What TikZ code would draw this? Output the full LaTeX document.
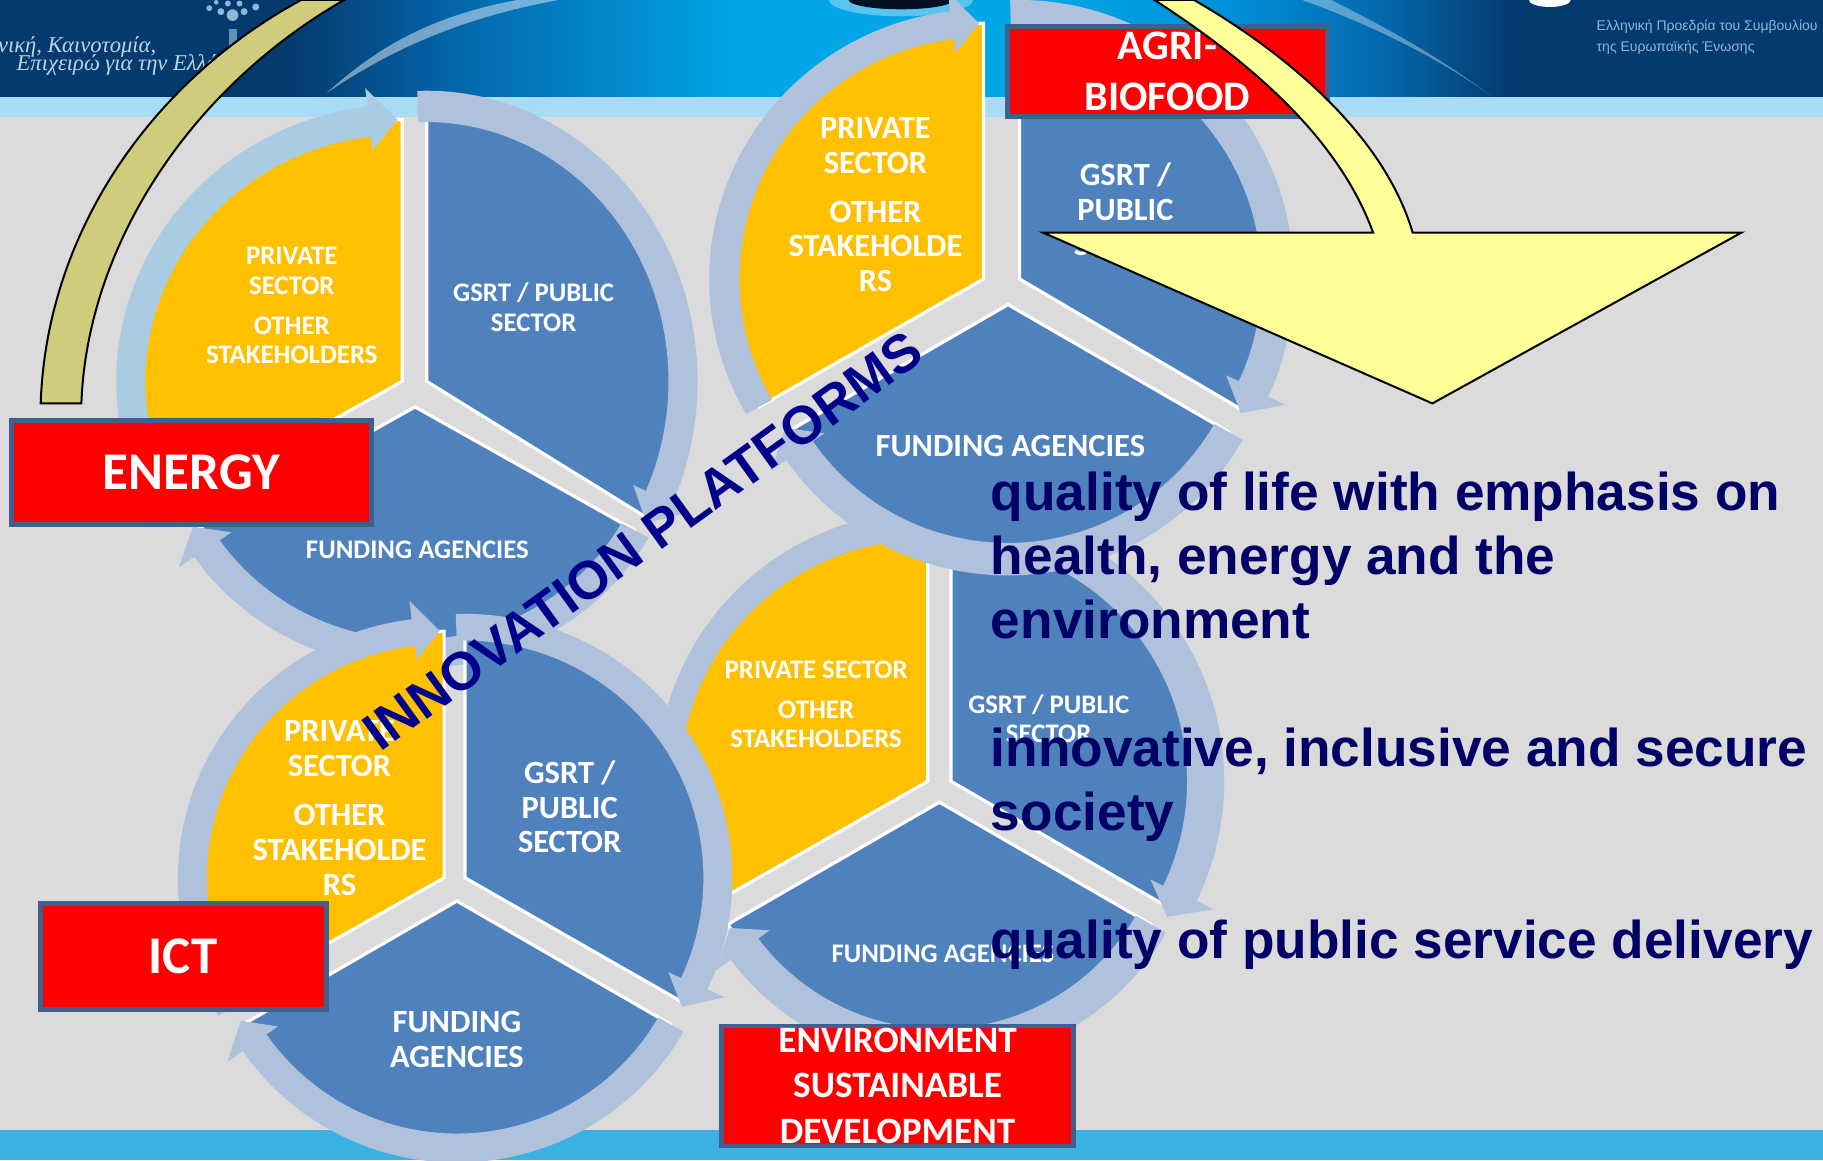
\documentclass[tikz,border=0pt]{standalone}
\usepackage{fontspec}
\setmainfont{Carlito}
\newfontfamily\arialfont{Liberation Sans}
\newfontfamily\handfont{Liberation Serif}
\definecolor{bgray}{HTML}{DBDBDB}
\definecolor{strip}{HTML}{A9DBF5}
\definecolor{footer}{HTML}{3CB1E3}
\definecolor{pblue}{HTML}{4F81BD}
\definecolor{pyellow}{HTML}{FFC000}
\definecolor{ringc}{HTML}{B0C1DC}
\definecolor{ringl}{HTML}{A9CCE3}
\definecolor{boxline}{HTML}{3F5F8F}
\definecolor{olive}{HTML}{CFCD7B}
\definecolor{paleyellow}{HTML}{FFFF99}
\definecolor{navya}{HTML}{000066}
\definecolor{navyb}{HTML}{00008B}
\definecolor{hdark}{HTML}{043A6E}
\definecolor{hmid}{HTML}{0468AE}
\definecolor{hbright}{HTML}{00A6E6}
\definecolor{hsky}{HTML}{0090D8}
\definecolor{hpale}{HTML}{8FB7D6}
\newcommand\lowered[1]{\raisebox{-1.2pt}{#1}}
\newcommand\cycpie[7]{%
  \draw[white,line width=1.6pt,line join=miter,fill=#7]
    (#1,#2) -- plot[domain=#5:#6,samples=50] ({#1+#3*cos(\x)},{#2-#4*sin(\x)}) -- cycle;}
\newcommand\cycring[9]{%
  \pgfmathsetmacro{\shaftend}{#8+6}%
  \fill[#9]
    plot[domain=#7:\shaftend,samples=60] ({#1+#5*cos(\x)},{#2-#6*sin(\x)})
    -- ({#1+(#5+16)*cos(\shaftend)},{#2-(#6+16)*sin(\shaftend)})
    -- ({#1+(#3+#5)/2*cos(#8)},{#2-(#4+#6)/2*sin(#8)})
    -- ({#1+(#3-12)*cos(\shaftend)},{#2-(#4-12)*sin(\shaftend)})
    -- plot[domain=\shaftend:#7,samples=60] ({#1+#3*cos(\x)},{#2-#4*sin(\x)})
    -- cycle;}
\tikzset{
  lblS/.style={text=white,align=center,inner sep=0pt,font=\bfseries\fontsize{13.4}{14.8}\selectfont},
  lblL/.style={text=white,align=center,inner sep=0pt,font=\bfseries\fontsize{16.2}{17.4}\selectfont},
  redbox/.style={draw=boxline,line width=2.4pt,fill=red,text=white,align=center,inner sep=0pt},
  hdrtext/.style={text=hpale,inner sep=0pt,anchor=west}
}
\begin{document}
\begin{tikzpicture}[x=0.58135pt,y=-0.58135pt]
\useasboundingbox (0,0) rectangle (1568,998);
\clip (0,0) rectangle (1568,998);
% background
\fill[bgray] (0,0) rectangle (1568,998);
\fill[strip] (0,83) rectangle (1568,101);
\fill[footer] (0,972) rectangle (1568,998);
% header
\shade[left color=hdark,right color=hdark] (0,0) rectangle (250,83);
\shade[left color=hdark,right color=hmid] (249,0) rectangle (400,83);
\shade[left color=hmid,right color=hbright] (399,0) rectangle (640,83);
\shade[left color=hbright,right color=hbright] (639,0) rectangle (900,83);
\shade[left color=hbright,right color=hsky] (899,0) rectangle (1060,83);
\shade[left color=hsky,right color=hmid] (1059,0) rectangle (1190,83);
\shade[left color=hmid,right color=hdark] (1189,0) rectangle (1300,83);
\shade[left color=hdark,right color=hdark] (1299,0) rectangle (1568,83);
\fill[white,opacity=.45] (281,80) .. controls (330,35) and (380,12) .. (445,0) -- (480,0) .. controls (400,15) and (340,40) .. (281,80) -- cycle;
\fill[white,opacity=.35] (1120,0) .. controls (1170,18) and (1230,45) .. (1282,82) .. controls (1225,40) and (1180,18) .. (1145,0) -- cycle;
\fill[white,opacity=.35] (775,0) ellipse (62 and 14);
\fill[black!70!hdark] (775,0) ellipse (45 and 8);
\fill[white] (1333,0) ellipse (18 and 6);
% emblem
\fill[hpale,opacity=.7] (197,25) rectangle (204,40);
\foreach \dx/\dy/\dr in {200/13/5,190/10/3,210/10/3,180/7/2.5,220/6/3,196/3/2.5,206/3/2.5,186/2/2}
  \fill[hpale] (\dx,\dy) circle (\dr);
\node[hdrtext,font=\handfont\itshape\fontsize{11.3}{12}\selectfont,text=hpale!60!white] (hdA) at (-2,40) {νική, Καινοτομία,};
\node[hdrtext,font=\handfont\itshape\fontsize{11.3}{12}\selectfont,text=hpale!60!white] (hdB) at (14,56) {Επιχειρώ για την Ελλάδα};
\node[hdrtext,font=\arialfont\fontsize{7}{8}\selectfont] (hdC) at (1373,23) {Ελληνική Προεδρία του Συμβουλίου};
\node[hdrtext,font=\arialfont\fontsize{7}{8}\selectfont] (hdD) at (1373,41) {της Ευρωπαϊκής Ένωσης};
% ENVIRONMENT cycle
\cycpie{798}{672}{223}{220}{90}{210}{pyellow}
\cycpie{818}{672}{219}{220}{90}{-30}{pblue}
\cycpie{808}{690}{210}{210}{330}{210}{pblue}
\cycring{808}{690}{195}{195}{225}{225}{330}{211}{ringc}
\cycring{818}{672}{203}{205}{235}{235}{92}{-32}{ringc}
\cycring{798}{672}{213}{208}{233}{232}{210}{91}{ringc}
\node[lblS] (evPriv) at (702,606) {PRIVATE SECTOR\\[5pt]OTHER\\STAKEHOLDERS};
\node[lblS] (evGsrt) at (902,618) {GSRT / PUBLIC\\SECTOR};
\node[lblS] (evFund) at (811,820) {FUNDING AGENCIES};
% AGRI cycle
\cycpie{846}{240}{223}{220}{90}{210}{pyellow}
\cycpie{877}{240}{220}{224}{90}{-30}{pblue}
\cycpie{867}{262}{219}{219}{330}{210}{pblue}
\cycring{867}{262}{205}{205}{233}{233}{330}{209}{ringc}
\cycring{877}{240}{208}{208}{236}{240}{92}{-31}{ringc}
\cycring{846}{240}{210}{208}{236}{232}{210}{91}{ringc}
\node[lblL] (agPriv) at (753,176) {PRIVATE\\SECTOR\\[7pt]OTHER\\STAKEHOLDE\\RS};
\node[lblL] (agGsrt) at (968,180) {GSRT /\\PUBLIC\\SECTOR};
\node[lblL] (agFund) at (869,384) {FUNDING AGENCIES};
% ENERGY cycle
\cycpie{346}{328}{233}{225}{90}{210}{pyellow}
\cycpie{367}{328}{220}{236}{90}{-30}{pblue}
\cycpie{357}{350}{218}{212}{330}{210}{pblue}
\cycring{357}{350}{205}{200}{232}{225}{330}{209}{ringc}
\cycring{367}{328}{208}{223}{233}{250}{92}{-31}{ringc}
\cycring{346}{328}{221}{212}{246}{238}{212}{91}{ringl}
\node[lblS] (enPriv) at (251,263) {PRIVATE\\SECTOR\\[5pt]OTHER\\STAKEHOLDERS};
\node[lblS] (enGsrt) at (459,264) {GSRT / PUBLIC\\SECTOR};
\node[lblS] (enFund) at (359,473) {FUNDING AGENCIES};
% ICT cycle
\cycpie{382}{755}{216}{212}{90}{210}{pyellow}
\cycpie{400}{755}{217}{215}{90}{-30}{pblue}
\cycpie{393}{775}{212}{212}{330}{210}{pblue}
\cycring{393}{775}{200}{200}{225}{225}{330}{209}{ringc}
\cycring{400}{755}{205}{204}{230}{227}{92}{-31}{ringc}
\cycring{382}{755}{204}{201}{229}{224}{212}{91}{ringc}
\node[lblL] (icPriv) at (292,695) {PRIVATE\\SECTOR\\[7pt]OTHER\\STAKEHOLDE\\RS};
\node[lblL] (icGsrt) at (490,694) {GSRT /\\PUBLIC\\SECTOR};
\node[lblL] (icFund) at (393,894) {FUNDING\\AGENCIES};
% red boxes
\node[redbox,minimum width=180pt,minimum height=52pt,font=\bfseries\fontsize{26.5}{30}\selectfont] (energy) at (164.5,406.5) {\lowered{ENERGY}};
\node[redbox,minimum width=143pt,minimum height=53pt,font=\bfseries\fontsize{26.5}{30}\selectfont] (ict) at (157.5,822.5) {\lowered{ICT}};
\node[redbox,minimum width=160pt,minimum height=45pt,font=\bfseries\fontsize{21}{25.6}\selectfont] (agri) at (1004,61.5) {\lowered{AGRI-}\\\lowered{BIOFOOD}};
\node[redbox,minimum width=176pt,minimum height=60pt,font=\bfseries\fontsize{18.6}{22.6}\selectfont] (envbox) at (772,934) {ENVIRONMENT\\SUSTAINABLE\\DEVELOPMENT};
% big arrows
\draw[black,line width=1pt,fill=olive] (35,347) .. controls (40,200) and (130,70) .. (259,0) -- (296,0) .. controls (165,75) and (75,210) .. (70,347) -- cycle;
\draw[black,line width=1pt,line join=miter,fill=paleyellow] (993,0) .. controls (1070,50) and (1150,115) .. (1181,200) -- (897,200) -- (1232,347) -- (1498,200) -- (1215,200) .. controls (1190,115) and (1105,45) .. (1027,0) -- cycle;
% large texts
\node[inner sep=0pt,rotate=35.8,text=navyb,font=\arialfont\bfseries\fontsize{26.8}{30}\selectfont] (innov) at (553,465) {INNOVATION PLATFORMS};
\node[anchor=north west,inner sep=0pt,align=left,text=navya,font=\arialfont\bfseries\fontsize{26.6}{32}\selectfont] (goals) at (852,406) {quality of life with emphasis on\\health, energy and the\\environment\\[32pt]innovative, inclusive and secure\\society\\[32pt]quality of public service delivery};
\end{tikzpicture}
\end{document}
